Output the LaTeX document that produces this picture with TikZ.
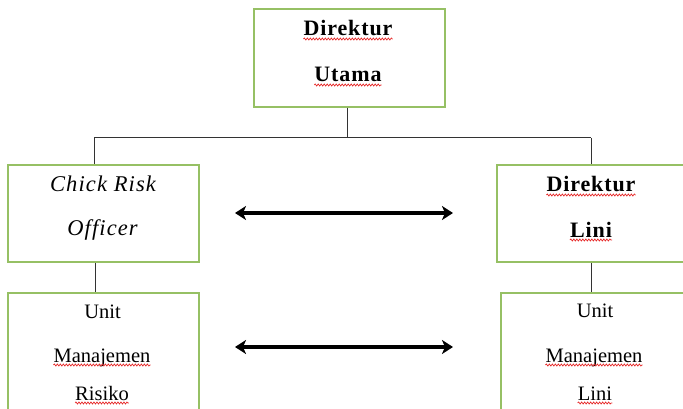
\documentclass[tikz,border=0pt]{standalone}
\usepackage{fontspec}
\setmainfont{Liberation Serif}[BoldFeatures={LetterSpace=4},ItalicFeatures={LetterSpace=5}]
\usetikzlibrary{arrows.meta,decorations.pathmorphing}
\definecolor{boxgreen}{RGB}{150,192,100}
\definecolor{spellred}{RGB}{230,40,40}
\tikzset{
  orgbox/.style={draw=boxgreen,line width=1.5pt,minimum width=#1,inner sep=0pt},
  boldtxt/.style={anchor=base,inner sep=0pt,font=\fontsize{22}{26}\selectfont\bfseries},
  regtxt/.style={anchor=base,inner sep=0pt,font=\fontsize{20.5}{24}\selectfont},
  itatxt/.style={anchor=base,inner sep=0pt,font=\fontsize{22.5}{26}\selectfont\itshape},
  conn/.style={draw=black!80,line width=1pt},
  bigarrow/.style={line width=3.6pt,{Stealth[length=11pt,width=14pt,inset=3pt]}-{Stealth[length=11pt,width=14pt,inset=3pt]}},
  wavy/.style={draw=spellred,line width=0.7pt,decorate,decoration={snake,amplitude=1pt,segment length=3pt}}
}
\begin{document}
\begin{tikzpicture}[x=1pt,y=1pt]
\useasboundingbox (0,0) rectangle (683,-409);
\clip (0,0) rectangle (683,-409);
% boxes
\node[orgbox=191pt,minimum height=98pt] (top) at (349.5,-58) {};
\node[orgbox=191pt,minimum height=97pt] (cro) at (103.5,-213.5) {};
\node[orgbox=188pt,minimum height=97pt] (dl) at (591,-213.5) {};
\node[orgbox=191pt,minimum height=137pt] (umr) at (103.5,-361.5) {};
\node[orgbox=188pt,minimum height=137pt] (uml) at (595,-361.5) {};
% texts
\node[boldtxt] (t1) at (348,-36) {Direktur};
\node[boldtxt] (t2) at (348,-82) {Utama};
\node[itatxt] (c1) at (103,-192) {Chick Risk};
\node[itatxt] (c2) at (102.5,-235) {Officer};
\node[boldtxt] (d1) at (591,-192) {Direktur};
\node[boldtxt] (d2) at (591,-237) {Lini};
\node[regtxt] (r1) at (102.5,-318) {Unit};
\node[regtxt] (r2) at (102,-362) {Manajemen};
\node[regtxt] (r3) at (102,-400) {Risiko};
\node[regtxt] (l1) at (595,-317) {Unit};
\node[regtxt] (l2) at (594,-362) {Manajemen};
\node[regtxt] (l3) at (595,-400) {Lini};
% spell-check underlines
\foreach \w in {t1,t2,d1,d2,r2,r3,l2,l3}{
  \draw[wavy] ([yshift=-3pt]\w.base west) -- ([yshift=-3pt]\w.base east);
}
% connectors
\coordinate (busL) at (94,-138);
\coordinate (busR) at (591,-138);
\coordinate (busT) at (347,-138);
\draw[conn] (busT |- top.south) -- (busT);
\draw[conn] (busL) -- (busR);
\draw[conn] (busL) -- (busL |- cro.north);
\draw[conn] (busR) -- (busR |- dl.north);
\coordinate (vL) at (95,-262);
\coordinate (vR) at (591,-262);
\draw[conn] (vL |- cro.south) -- (vL |- umr.north);
\draw[conn] (vR |- dl.south) -- (vR |- uml.north);
% arrows
\coordinate (a1l) at (235,-213);
\coordinate (a1r) at (453,-213);
\coordinate (a2l) at (235,-347);
\coordinate (a2r) at (453,-347);
\draw[bigarrow] (a1l) -- (a1r);
\draw[bigarrow] (a2l) -- (a2r);
\end{tikzpicture}
\end{document}
